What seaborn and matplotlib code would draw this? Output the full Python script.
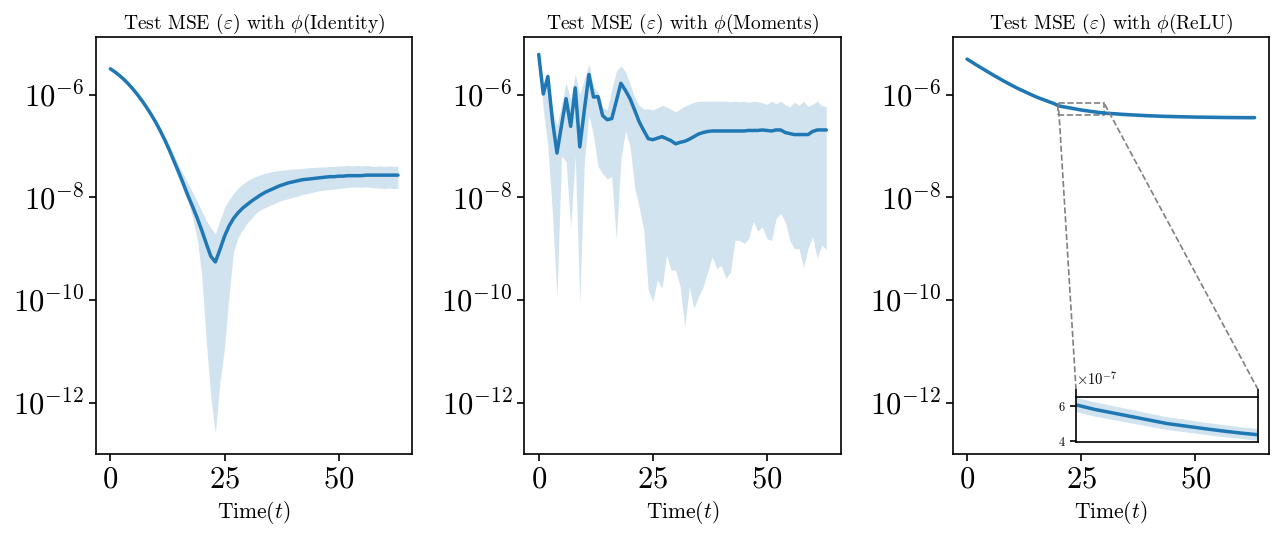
import numpy as np
import matplotlib.pyplot as plt
import seaborn as sns
from matplotlib.ticker import NullLocator
from mpl_toolkits.axes_grid1.inset_locator import mark_inset

# --- Data (log10 of test MSE unless noted) ---
time_steps = list(range(64))

identity_mean = [-5.50, -5.56, -5.63, -5.71, -5.80, -5.90, -6.01, -6.13, -6.26, -6.40,
                 -6.55, -6.72, -6.90, -7.10, -7.31, -7.52, -7.74, -7.97, -8.18, -8.40,
                 -8.64, -8.90, -9.15, -9.26, -9.02, -8.76, -8.56, -8.41, -8.30, -8.21,
                 -8.14, -8.07, -8.01, -7.95, -7.90, -7.86, -7.82, -7.78, -7.75, -7.72,
                 -7.70, -7.68, -7.66, -7.65, -7.64, -7.63, -7.62, -7.61, -7.60, -7.60,
                 -7.59, -7.59, -7.58, -7.58, -7.58, -7.58, -7.57, -7.57, -7.57, -7.57,
                 -7.57, -7.57, -7.57, -7.57]
identity_hi = [-5.47, -5.53, -5.60, -5.68, -5.77, -5.87, -5.97, -6.09, -6.21, -6.35,
               -6.50, -6.66, -6.83, -7.00, -7.19, -7.38, -7.56, -7.73, -7.90, -8.08,
               -8.27, -8.45, -8.60, -8.71, -8.45, -8.20, -8.05, -7.92, -7.82, -7.74,
               -7.68, -7.63, -7.59, -7.56, -7.53, -7.51, -7.49, -7.48, -7.47, -7.46,
               -7.45, -7.45, -7.44, -7.43, -7.42, -7.42, -7.41, -7.41, -7.40, -7.40,
               -7.39, -7.39, -7.38, -7.39, -7.38, -7.39, -7.38, -7.39, -7.40, -7.39,
               -7.40, -7.39, -7.40, -7.40]
identity_lo = [-5.53, -5.59, -5.66, -5.74, -5.83, -5.93, -6.05, -6.17, -6.31, -6.45,
               -6.61, -6.78, -6.97, -7.18, -7.42, -7.65, -7.88, -8.08, -8.40, -8.80,
               -9.50, -10.80, -11.90, -12.60, -11.60, -10.95, -9.90, -9.05, -8.78, -8.63,
               -8.50, -8.40, -8.30, -8.24, -8.20, -8.16, -8.12, -8.08, -8.05, -8.03,
               -8.00, -7.98, -7.95, -7.93, -7.91, -7.89, -7.87, -7.86, -7.85, -7.84,
               -7.83, -7.82, -7.81, -7.80, -7.80, -7.81, -7.80, -7.81, -7.82, -7.82,
               -7.83, -7.82, -7.83, -7.83]

moments_mean = [-5.22, -5.99, -5.65, -6.50, -7.14, -6.60, -6.08, -6.62, -5.87, -7.02,
                -6.30, -5.61, -6.05, -6.04, -6.41, -6.49, -6.47, -6.13, -5.78, -5.92,
                -6.08, -6.30, -6.53, -6.70, -6.86, -6.88, -6.85, -6.82, -6.86, -6.90,
                -6.96, -6.93, -6.91, -6.87, -6.82, -6.77, -6.74, -6.72, -6.71, -6.71,
                -6.71, -6.71, -6.71, -6.71, -6.71, -6.71, -6.70, -6.70, -6.70, -6.69,
                -6.70, -6.71, -6.69, -6.69, -6.74, -6.76, -6.78, -6.78, -6.78, -6.78,
                -6.72, -6.69, -6.69, -6.69]
moments_hi = [-5.20, -5.85, -5.55, -6.30, -6.60, -6.20, -5.76, -6.10, -5.60, -6.00,
              -5.70, -5.40, -5.85, -5.95, -6.25, -6.30, -5.90, -5.55, -5.44, -5.55,
              -5.79, -6.05, -6.21, -6.28, -6.28, -6.30, -6.26, -6.21, -6.24, -6.29,
              -6.34, -6.28, -6.23, -6.19, -6.15, -6.13, -6.13, -6.13, -6.13, -6.13,
              -6.13, -6.13, -6.14, -6.13, -6.14, -6.13, -6.15, -6.13, -6.14, -6.16,
              -6.19, -6.13, -6.18, -6.13, -6.20, -6.24, -6.15, -6.21, -6.13, -6.23,
              -6.19, -6.13, -6.22, -6.23]
moments_lo = [-5.25, -6.30, -7.00, -8.30, -9.95, -7.20, -7.30, -8.60, -7.20, -10.05,
              -7.30, -6.40, -6.80, -7.40, -7.54, -7.64, -7.60, -8.83, -7.28, -6.70,
              -7.00, -7.80, -8.19, -8.64, -9.81, -10.03, -9.61, -9.78, -9.13, -9.42,
              -9.42, -9.75, -10.52, -9.75, -10.16, -9.94, -9.75, -9.46, -9.16, -9.39,
              -9.33, -9.58, -9.46, -8.84, -8.84, -8.90, -8.81, -8.47, -8.66, -8.58,
              -8.81, -8.84, -8.42, -8.32, -8.48, -8.84, -9.00, -9.00, -9.37, -9.00,
              -8.77, -9.19, -8.93, -9.02]

# ReLU panel in units of 1e-7 (linear, because of the inset)
relu_mean = [49.0, 43.1, 37.9, 33.5, 29.6, 26.2, 23.2, 20.7, 18.4, 16.5,
             14.8, 13.3, 12.1, 11.0, 10.0, 9.1, 8.4, 7.8, 7.2, 6.7,
             6.05, 5.8, 5.6, 5.4, 5.2, 5.0, 4.86, 4.72, 4.59, 4.47,
             4.37, 4.30, 4.24, 4.18, 4.12, 4.07, 4.02, 3.98, 3.94, 3.90,
             3.86, 3.83, 3.80, 3.77, 3.75, 3.73, 3.71, 3.69, 3.67, 3.66,
             3.64, 3.63, 3.62, 3.61, 3.60, 3.59, 3.58, 3.57, 3.57, 3.56,
             3.56, 3.55, 3.55, 3.55]
relu_sd = [3.4, 3.0, 2.65, 2.35, 2.1, 1.85, 1.65, 1.45, 1.3, 1.15,
           1.05, 0.95, 0.85, 0.77, 0.7, 0.64, 0.59, 0.55, 0.5, 0.46,
           0.40, 0.40, 0.39, 0.38, 0.37, 0.36, 0.35, 0.34, 0.34, 0.33,
           0.33, 0.32, 0.32, 0.31, 0.31, 0.30, 0.30, 0.30, 0.29, 0.29,
           0.29, 0.28, 0.28, 0.28, 0.28, 0.27, 0.27, 0.27, 0.27, 0.26,
           0.26, 0.26, 0.26, 0.26, 0.25, 0.25, 0.25, 0.25, 0.25, 0.25,
           0.25, 0.25, 0.25, 0.25]

titles = [r"Test MSE ($\varepsilon$) with $\phi$(Identity)",
          r"Test MSE ($\varepsilon$) with $\phi$(Moments)",
          r"Test MSE ($\varepsilon$) with $\phi$(ReLU)"]

# --- Style ---
sns.set_style("ticks")
plt.rcParams["font.family"] = ["cmr10", "DejaVu Serif"]
plt.rcParams["mathtext.fontset"] = "cm"
plt.rcParams["axes.formatter.use_mathtext"] = True
plt.rcParams["axes.unicode_minus"] = False
plt.rcParams["text.color"] = "black"
plt.rcParams["axes.labelcolor"] = "black"
plt.rcParams["xtick.color"] = "black"
plt.rcParams["ytick.color"] = "black"
blue = "#1f77b4"

fig, axes = plt.subplots(1, 3, figsize=(12.76, 5.33), dpi=100)
fig.subplots_adjust(left=96 / 1276, right=1269 / 1276, bottom=1 - 454 / 533,
                    top=1 - 37 / 533, wspace=0.354)

rel = np.array(relu_mean) * 1e-7
rel_sd = np.array(relu_sd) * 1e-7
panels = [
    (10 ** np.array(identity_mean), 10 ** np.array(identity_lo), 10 ** np.array(identity_hi)),
    (10 ** np.array(moments_mean), 10 ** np.array(moments_lo), 10 ** np.array(moments_hi)),
    (rel, rel - rel_sd, rel + rel_sd),
]

for ax, (mean, lo, hi), title in zip(axes, panels, titles):
    ax.set_yscale("log")
    ax.fill_between(time_steps, lo, hi, color=blue, alpha=0.2, linewidth=0)
    sns.lineplot(x=time_steps, y=mean, ax=ax, color=blue, linewidth=2.5)
    ax.set_ylim(10 ** -13.0, 10 ** -4.88)
    ax.set_yticks([1e-6, 1e-8, 1e-10, 1e-12])
    ax.yaxis.set_minor_locator(NullLocator())
    ax.set_xticks([0, 25, 50])
    ax.tick_params(labelsize=22, length=5, width=1.2, color="black", labelcolor="black")
    for sp in ax.spines.values():
        sp.set_color("black")
        sp.set_linewidth(1.2)
    ax.set_title(title, fontsize=14, color="black")
    ax.set_xlabel(r"Time($t$)", fontsize=15.5, color="black")
    ax.set_ylabel("")

# --- Inset on the ReLU panel ---
ax = axes[2]
axins = ax.inset_axes([0.390, 0.029, 0.576, 0.1247])
axins.fill_between(time_steps, rel - rel_sd, rel + rel_sd, color=blue, alpha=0.2, linewidth=0)
sns.lineplot(x=time_steps, y=rel, ax=axins, color=blue, linewidth=2.5)
axins.set_xlim(20, 30)
axins.set_ylim(3.97e-7, 6.89e-7)
axins.set_xticks([])
axins.set_yticks([4e-7, 6e-7])
axins.ticklabel_format(axis="y", style="sci", scilimits=(0, 0), useMathText=True)
axins.tick_params(labelsize=9, length=4, width=1.2, color="black", labelcolor="black")
axins.yaxis.get_offset_text().set_fontsize(10.5)
axins.spines["top"].set_position(("data", 6.48e-7))
for sp in axins.spines.values():
    sp.set_color("black")
    sp.set_linewidth(1.2)
axins.set_ylabel("")
mark_inset(ax, axins, loc1=2, loc2=1, fc="none", ec="0.5", ls="--", lw=1.2)

plt.savefig("out.png", dpi=100)
plt.close()
